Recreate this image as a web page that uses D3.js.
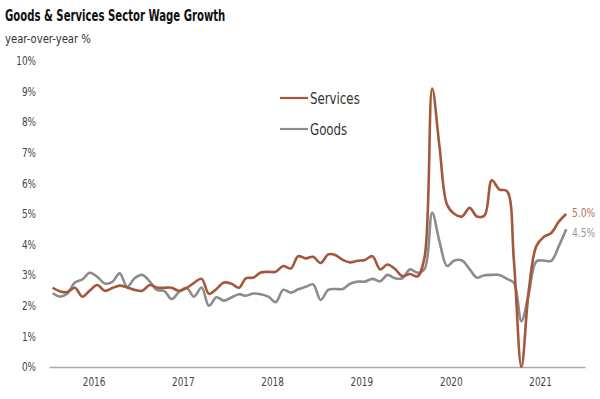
<!DOCTYPE html>
<html>
<head>
<meta charset="utf-8">
<script src="https://d3js.org/d3.v7.min.js"></script>
<style>
  body { margin: 0; background: #fff; }
  text { font-family: "DejaVu Sans Condensed", "Roboto", sans-serif; }
</style>
</head>
<body>
<script>
  // monthly, Jan 2016 .. Oct 2021
  var months = d3.timeMonth.range(new Date(2016, 0, 1), new Date(2021, 10, 1));
  var yearLabels = ["2016", "2017", "2018", "2019", "2020", "2021"];
  var yTicks = [0, 1, 2, 3, 4, 5, 6, 7, 8, 9, 10];

  var services = [2.59, 2.47, 2.45, 2.59, 2.30, 2.50, 2.68, 2.49, 2.58, 2.66,
    2.60, 2.52, 2.49, 2.68, 2.60, 2.59, 2.59, 2.49, 2.58, 2.75,
    2.88, 2.39, 2.55, 2.76, 2.72, 2.59, 2.90, 2.92, 3.09, 3.11,
    3.11, 3.30, 3.22, 3.62, 3.55, 3.60, 3.40, 3.68, 3.66, 3.50,
    3.42, 3.47, 3.50, 3.62, 3.19, 3.35, 3.20, 2.97, 3.04, 2.96,
    3.60, 9.10, 7.20, 5.30, 5.00, 4.92, 5.20, 4.92, 4.95, 6.10,
    5.80, 5.75, 3.50, 0.00, 2.50, 3.95, 4.25, 4.38, 4.75, 5.00];

  var goods = [2.41, 2.30, 2.40, 2.76, 2.86, 3.08, 2.95, 2.73, 2.78, 3.06,
    2.62, 2.90, 3.01, 2.80, 2.52, 2.49, 2.22, 2.45, 2.59, 2.30,
    2.60, 2.00, 2.28, 2.17, 2.27, 2.38, 2.33, 2.40, 2.38, 2.30,
    2.12, 2.52, 2.43, 2.54, 2.62, 2.70, 2.19, 2.52, 2.55, 2.55,
    2.72, 2.79, 2.79, 2.88, 2.80, 3.01, 2.90, 2.90, 3.19, 3.08,
    3.20, 5.04, 4.10, 3.30, 3.48, 3.48, 3.20, 2.92, 3.00, 3.01,
    3.01, 2.88, 2.75, 1.50, 2.40, 3.45, 3.48, 3.47, 3.95, 4.50];

  var seriesNames = ["Services", "Goods"];
  var colors = ["#a5573b", "#8c8c8c"];

  // squeeze text horizontally, the original uses a condensed face
  function condense(sel, k) {
    sel.each(function(){
      var w = this.getComputedTextLength();
      d3.select(this).attr("textLength", w * k).attr("lengthAdjust", "spacingAndGlyphs");
    });
  }

  var svg = d3.select("body")
    .append("svg")
    .attr("width", 600)
    .attr("height", 399);

  var x = d3.scaleTime()
    .domain([new Date(2016, 0, 1), new Date(2022, 0, 1)])
    .range([49, 585]);

  var y = d3.scaleLinear()
    .domain([0, 10])
    .range([367, 61]);

  // titles
  svg.append("text")
    .attr("x", 5).attr("y", 21)
    .style("font-size", "15px")
    .style("font-weight", "bold")
    .style("fill", "#111")
    .text("Goods & Services Sector Wage Growth")
    .call(condense, 0.75);

  svg.append("text")
    .attr("x", 5).attr("y", 43)
    .style("font-size", "13px")
    .style("fill", "#333")
    .text("year-over-year %")
    .call(condense, 0.86);

  // y axis labels, no line
  svg.selectAll(".ytick")
    .data(yTicks)
    .enter()
    .append("text")
    .attr("class", "ytick")
    .attr("x", 36)
    .attr("y", function(d){ return y(d); })
    .attr("dy", "0.35em")
    .attr("text-anchor", "end")
    .style("font-size", "12px")
    .style("fill", "#444")
    .text(function(d){ return d + "%"; })
    .call(condense, 0.82);

  // x axis, labels centred in each year
  var xAxis = d3.axisBottom(x)
    .tickValues(yearLabels.map(function(d){ return new Date(+d, 6, 1); }))
    .tickFormat(d3.timeFormat("%Y"))
    .tickSize(0)
    .tickPadding(10);

  var gx = svg.append("g")
    .attr("transform", "translate(0," + y(0) + ")")
    .call(xAxis);
  gx.select(".domain").attr("stroke", "#aaa").attr("stroke-width", 1.3);
  gx.selectAll("text")
    .style("font-size", "12px")
    .style("fill", "#444")
    .style("font-family", "\"DejaVu Sans Condensed\", sans-serif")
    .call(condense, 0.82);

  var line = d3.line()
    .x(function(d, i){ return x(d3.timeDay.offset(months[i], 15)); })
    .y(function(d){ return y(d); })
    .curve(d3.curveCatmullRom.alpha(0.5));

  var allSeries = [services, goods];

  // goods drawn under services
  svg.selectAll(".series")
    .data([1, 0])
    .enter()
    .append("path")
    .attr("class", "series")
    .attr("d", function(k){ return line(allSeries[k]); })
    .attr("fill", "none")
    .attr("stroke", function(k){ return colors[k]; })
    .attr("stroke-width", 2.6)
    .attr("stroke-linejoin", "round");

  // end labels
  var last = months.length - 1;
  var endOffset = [-1, 3];
  svg.selectAll(".endlabel")
    .data([0, 1])
    .enter()
    .append("text")
    .attr("class", "endlabel")
    .attr("x", 572)
    .attr("y", function(k){ return y(allSeries[k][last]) + endOffset[k]; })
    .attr("dy", "0.35em")
    .style("font-size", "12px")
    .style("fill", function(k){ return k === 0 ? "#b5735a" : "#999"; })
    .text(function(k){ return allSeries[k][last].toFixed(1) + "%"; })
    .call(condense, 0.85);

  // legend
  var legend = svg.selectAll(".legend")
    .data(seriesNames)
    .enter()
    .append("g")
    .attr("class", "legend")
    .attr("transform", function(d, i){ return "translate(280," + (98 + i * 31) + ")"; });

  legend.append("line")
    .attr("x1", 0).attr("x2", 28)
    .attr("stroke", function(d, i){ return colors[i]; })
    .attr("stroke-width", 2.2);

  legend.append("text")
    .attr("x", 30)
    .attr("dy", "0.35em")
    .style("font-size", "16px")
    .style("fill", "#333")
    .text(function(d){ return d; })
    .call(condense, 0.82);
</script>
</body>
</html>
